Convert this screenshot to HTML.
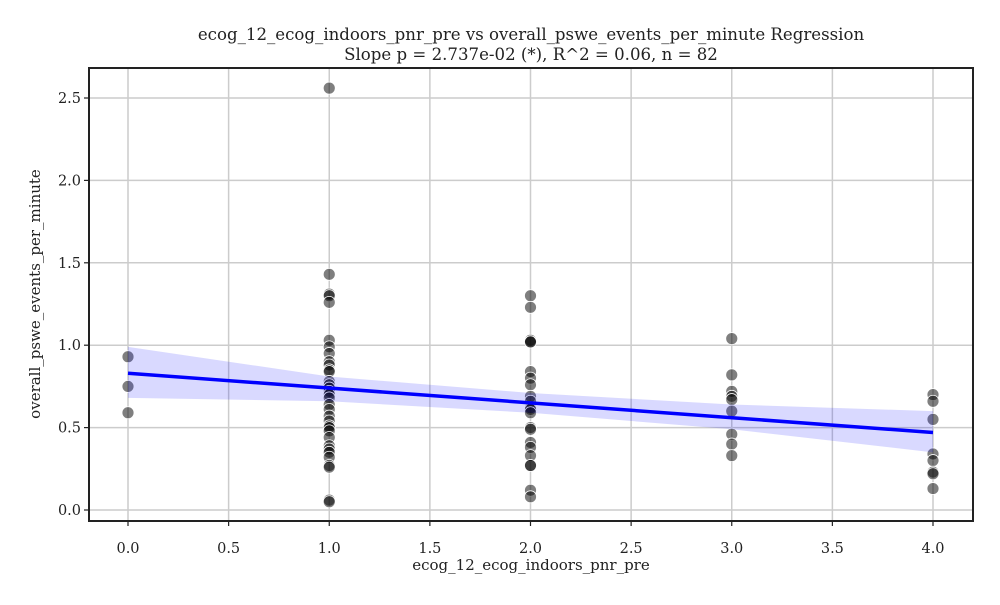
<!DOCTYPE html>
<html><head><meta charset="utf-8"><style>
body{margin:0;background:#fff;}
svg text{font-family:"DejaVu Serif","Liberation Serif",serif;fill:#222;}
</style></head><body>
<svg id="chart" width="1000" height="600" xmlns="http://www.w3.org/2000/svg"></svg>
<script>
const xTicks=[0,0.5,1,1.5,2,2.5,3,3.5,4];
const yTicks=[0,0.5,1,1.5,2,2.5];
const ptX=[0,0,0,
1,1,1,1,1,1,1,1,1,1,1,1,1,1,1,1,1,1,1,1,1,1,1,1,1,1,1,1,1,1,1,1,1,1,
2,2,2,2,2,2,2,2,2,2,2,2,2,2,2,2,2,2,2,2,2,2,
3,3,3,3,3,3,3,3,3,
4,4,4,4,4,4,4,4];
const ptY=[0.93,0.75,0.59,
2.56,1.43,1.31,1.30,1.26,1.03,0.99,0.95,0.90,0.88,0.85,0.84,0.78,0.76,0.74,0.72,0.70,0.68,0.64,0.61,0.57,0.54,0.51,0.50,0.48,0.44,0.39,0.37,0.35,0.32,0.27,0.26,0.06,0.05,
1.30,1.23,1.03,1.02,1.02,0.84,0.80,0.76,0.69,0.66,0.62,0.61,0.59,0.50,0.49,0.41,0.38,0.33,0.27,0.27,0.12,0.08,
1.04,0.82,0.72,0.69,0.67,0.60,0.46,0.40,0.33,
0.70,0.66,0.55,0.34,0.30,0.23,0.22,0.13];
const lineX=[0,4];
const lineY=[0.83,0.47];
const bandX=[0,1,2,3,4];
const bandLo=[0.68,0.66,0.59,0.49,0.35];
const bandHi=[0.99,0.81,0.71,0.64,0.60];

const svg=document.getElementById('chart');
const NS='http://www.w3.org/2000/svg';
const L=89,R=973,T=68,B=521;
const sx=v=>128+v*201.25;
const sy=v=>510-v*164.8;
function mk(tag,attrs,parent){const e=document.createElementNS(NS,tag);for(const k in attrs)e.setAttribute(k,attrs[k]);(parent||svg).appendChild(e);return e;}

const grid=mk('g',{});


xTicks.forEach(t=>{
  mk('line',{x1:sx(t),x2:sx(t),y1:T,y2:B,stroke:'#cccccc','stroke-width':1.5},grid);
  mk('line',{x1:sx(t),x2:sx(t),y1:B,y2:B+5,stroke:'#222','stroke-width':1.2});
  const tx=mk('text',{x:sx(t),y:B+32,'text-anchor':'middle','font-size':14.5});
  tx.textContent=t.toFixed(1);
  
  
});
yTicks.forEach(t=>{
  mk('line',{x1:L,x2:R,y1:sy(t),y2:sy(t),stroke:'#cccccc','stroke-width':1.5},grid);
  mk('line',{x1:L-5,x2:L,y1:sy(t),y2:sy(t),stroke:'#222','stroke-width':1.2});
  const tx=mk('text',{x:L-8,y:sy(t)+5,'text-anchor':'end','font-size':14.5});
  tx.textContent=t.toFixed(1);
  
  
});

const pts=mk('g',{});


ptX.forEach((x,i)=>{
  const c=mk('circle',{cx:sx(x),cy:sy(ptY[i]),r:6,fill:'rgba(0,0,0,0.5)',stroke:'#fff','stroke-width':0.8},pts);
  
  
});

let d='';
bandX.forEach((x,i)=>{d+=(i?'L':'M')+sx(x)+','+sy(bandHi[i]);});
for(let i=bandX.length-1;i>=0;i--)d+='L'+sx(bandX[i])+','+sy(bandLo[i]);
const band=mk('path',{d:d+'Z',fill:'rgba(0,0,255,0.15)'});


const ln=mk('line',{x1:sx(lineX[0]),y1:sy(lineY[0]),x2:sx(lineX[1]),y2:sy(lineY[1]),stroke:'#0000ff','stroke-width':3.5});



const fr=mk('rect',{x:L,y:T,width:R-L,height:B-T,fill:'none',stroke:'#222','stroke-width':2});



function txt(s,attrs,name){const e=mk('text',attrs);e.textContent=s;return e;}
txt('ecog_12_ecog_indoors_pnr_pre vs overall_pswe_events_per_minute Regression',{x:531,y:40,'text-anchor':'middle','font-size':16.6},'chart-title');
txt('Slope p = 2.737e-02 (*), R^2 = 0.06, n = 82',{x:531,y:60,'text-anchor':'middle','font-size':16.6},'chart-subtitle');
txt('ecog_12_ecog_indoors_pnr_pre',{x:531,y:570,'text-anchor':'middle','font-size':15},'x-axis-title');
txt('overall_pswe_events_per_minute',{x:0,y:0,'text-anchor':'middle','font-size':15,transform:'translate(40,294) rotate(-90)'},'y-axis-title');
</script>
</body></html>
